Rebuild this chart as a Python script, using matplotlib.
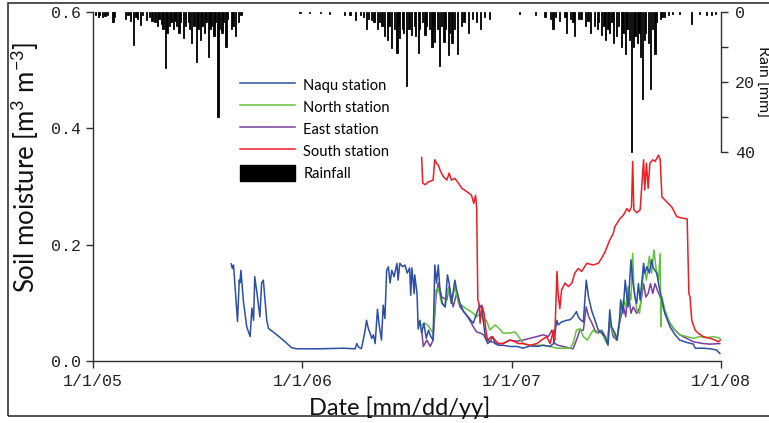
import numpy as np
import matplotlib
matplotlib.use('Agg')
import matplotlib.pyplot as plt
from matplotlib.lines import Line2D
from matplotlib.patches import Patch, Rectangle

START = np.datetime64('2005-01-01')

# ---- data (day = days since 2005-01-01) ----
naqu_day = [241, 243, 245, 252, 255, 256, 258, 262, 268, 274, 277, 280, 282, 286, 291, 294, 297, 300, 303, 306,
            314, 323, 335, 346, 355, 396, 436, 457, 460, 463, 468, 474, 477, 480, 483, 486, 489, 492, 496, 499,
            503, 506, 509, 512, 515, 518, 521, 525, 530, 532, 535, 540, 544, 548, 552, 554, 556, 560, 561, 565,
            567, 570, 573, 577, 581, 585, 589, 593, 596, 599, 602, 605, 609, 614, 618, 621, 625, 631, 634, 640,
            646, 654, 663, 669, 674, 678, 681, 684, 688, 692, 697, 701, 707, 715, 727, 739, 750, 762, 774, 785,
            797, 803, 807, 809, 811, 817, 826, 832, 837, 843, 846, 850, 855, 860, 864, 870, 875, 881, 887, 893,
            898, 901, 904, 910, 914, 918, 920, 924, 928, 931, 933, 938, 941, 945, 948, 951, 954, 960, 962, 966,
            970, 974, 977, 983, 987, 992, 997, 1006, 1015, 1023, 1035, 1047, 1050, 1064, 1076, 1087, 1093]
naqu_sm = [0.167, 0.159, 0.165, 0.068, 0.139, 0.134, 0.156, 0.105, 0.059, 0.042, 0.091, 0.070, 0.145, 0.116, 0.076,
           0.134, 0.139, 0.105, 0.070, 0.056, 0.050, 0.043, 0.033, 0.023, 0.021, 0.021, 0.022, 0.021, 0.030, 0.024,
           0.021, 0.050, 0.070, 0.056, 0.048, 0.039, 0.045, 0.030, 0.089, 0.062, 0.036, 0.096, 0.073, 0.156, 0.162,
           0.134, 0.156, 0.145, 0.168, 0.139, 0.168, 0.162, 0.165, 0.151, 0.160, 0.113, 0.160, 0.116, 0.148, 0.116,
           0.055, 0.070, 0.048, 0.065, 0.039, 0.053, 0.042, 0.036, 0.165, 0.134, 0.165, 0.122, 0.099, 0.093, 0.148,
           0.134, 0.099, 0.139, 0.122, 0.099, 0.085, 0.076, 0.065, 0.082, 0.096, 0.090, 0.065, 0.042, 0.030, 0.033,
           0.042, 0.030, 0.027, 0.027, 0.025, 0.025, 0.022, 0.026, 0.025, 0.027, 0.025, 0.030, 0.059, 0.070, 0.062,
           0.067, 0.070, 0.071, 0.076, 0.085, 0.076, 0.071, 0.067, 0.139, 0.110, 0.085, 0.071, 0.053, 0.048, 0.042,
           0.027, 0.088, 0.059, 0.048, 0.036, 0.070, 0.105, 0.082, 0.139, 0.110, 0.093, 0.174, 0.139, 0.110, 0.099,
           0.133, 0.105, 0.168, 0.151, 0.162, 0.151, 0.174, 0.160, 0.151, 0.128, 0.105, 0.082, 0.059, 0.045, 0.036,
           0.032, 0.029, 0.022, 0.022, 0.021, 0.019, 0.013]

north_day = [573, 579, 585, 593, 598, 602, 608, 614, 619, 625, 631, 637, 646, 654, 663, 669, 675, 681, 686, 692,
             701, 707, 715, 727, 736, 742, 750, 762, 774, 785, 797, 809, 820, 832, 837, 843, 849, 855, 862, 867,
             872, 878, 884, 890, 896, 901, 907, 913, 919, 925, 929, 933, 938, 941, 943, 948, 953, 957, 961, 965,
             970, 974, 978, 982, 986, 989, 990, 992, 997, 1006, 1015, 1023, 1035, 1047, 1058, 1070, 1082, 1093]
north_sm = [0.062, 0.065, 0.060, 0.048, 0.122, 0.125, 0.099, 0.093, 0.125, 0.099, 0.128, 0.100, 0.093, 0.088, 0.082,
            0.076, 0.082, 0.070, 0.070, 0.053, 0.062, 0.057, 0.048, 0.048, 0.050, 0.042, 0.030, 0.027, 0.027, 0.027,
            0.025, 0.022, 0.022, 0.022, 0.030, 0.053, 0.056, 0.042, 0.036, 0.045, 0.053, 0.048, 0.053, 0.042, 0.030,
            0.070, 0.048, 0.036, 0.076, 0.105, 0.093, 0.128, 0.105, 0.185, 0.128, 0.088, 0.082, 0.122, 0.162, 0.139,
            0.180, 0.151, 0.191, 0.157, 0.139, 0.185, 0.059, 0.110, 0.088, 0.065, 0.053, 0.045, 0.042, 0.039, 0.042,
            0.040, 0.042, 0.039]

east_day = [573, 576, 582, 588, 593, 598, 602, 608, 617, 621, 628, 634, 640, 649, 657, 663, 669, 675, 681, 686,
            695, 704, 715, 727, 739, 750, 762, 774, 785, 794, 800, 805, 811, 820, 832, 837, 843, 849, 855, 860,
            864, 870, 875, 881, 887, 893, 898, 901, 907, 913, 919, 925, 929, 933, 938, 942, 948, 954, 960, 964,
            968, 972, 976, 980, 984, 989, 994, 1003, 1012, 1023, 1035, 1047, 1064, 1076, 1093]
east_sm = [0.053, 0.025, 0.036, 0.025, 0.036, 0.110, 0.134, 0.110, 0.105, 0.128, 0.093, 0.116, 0.093, 0.082, 0.070,
           0.059, 0.050, 0.048, 0.045, 0.036, 0.033, 0.030, 0.030, 0.036, 0.034, 0.036, 0.039, 0.042, 0.045, 0.042,
           0.053, 0.030, 0.027, 0.025, 0.022, 0.021, 0.036, 0.053, 0.053, 0.093, 0.077, 0.065, 0.053, 0.048, 0.053,
           0.042, 0.030, 0.070, 0.042, 0.036, 0.070, 0.093, 0.076, 0.122, 0.082, 0.093, 0.082, 0.093, 0.133, 0.110,
           0.116, 0.133, 0.116, 0.133, 0.122, 0.110, 0.093, 0.070, 0.056, 0.045, 0.039, 0.033, 0.030, 0.029, 0.030]

south_day = [573, 575, 579, 585, 593, 596, 599, 602, 606, 611, 617, 621, 625, 631, 637, 643, 652, 660, 664, 667,
             669, 671, 673, 675, 678, 682, 685, 688, 695, 701, 707, 715, 727, 736, 742, 750, 762, 774, 782, 791,
             797, 803, 805, 809, 811, 814, 817, 823, 829, 835, 840, 846, 852, 861, 872, 881, 887, 893, 901, 907,
             910, 919, 925, 931, 935, 939, 941, 943, 948, 954, 960, 962, 965, 968, 971, 976, 980, 986, 989, 992,
             1000, 1009, 1018, 1026, 1036, 1039, 1041, 1044, 1050, 1055, 1064, 1076, 1085, 1090, 1094]
south_sm = [0.350, 0.306, 0.303, 0.308, 0.311, 0.346, 0.340, 0.337, 0.326, 0.317, 0.311, 0.323, 0.311, 0.314, 0.306,
            0.297, 0.291, 0.285, 0.271, 0.285, 0.263, 0.105, 0.099, 0.065, 0.096, 0.082, 0.053, 0.036, 0.042, 0.036,
            0.030, 0.030, 0.036, 0.033, 0.030, 0.030, 0.027, 0.030, 0.036, 0.042, 0.030, 0.053, 0.036, 0.154, 0.116,
            0.090, 0.122, 0.134, 0.128, 0.134, 0.151, 0.159, 0.154, 0.168, 0.165, 0.168, 0.177, 0.188, 0.208, 0.219,
            0.231, 0.245, 0.251, 0.262, 0.257, 0.265, 0.343, 0.260, 0.255, 0.260, 0.346, 0.294, 0.340, 0.297, 0.340,
            0.346, 0.343, 0.354, 0.346, 0.282, 0.274, 0.265, 0.248, 0.246, 0.244, 0.116, 0.110, 0.070, 0.053, 0.048,
            0.042, 0.039, 0.036, 0.033, 0.036]

rain_day = [5, 9, 12, 17, 21, 26, 35, 38, 56, 61, 65, 70, 75, 78, 83, 87, 94, 99, 103, 108,
            112, 115, 119, 122, 127, 129, 133, 136, 140, 143, 146, 150, 153, 158, 162, 166, 169, 172, 176, 180,
            183, 187, 190, 194, 197, 201, 204, 207, 211, 214, 218, 221, 225, 228, 232, 235, 241, 244, 249, 253,
            258,
            361, 378, 396, 413, 439, 448, 457, 466, 472, 477, 481, 486, 490, 496, 500, 504, 509, 513, 516,
            521, 525, 530, 532, 535, 539, 542, 547, 551, 556, 560, 563, 567, 570, 574, 579, 582, 586, 591, 593,
            596, 600, 604, 607, 612, 615, 620, 622, 626, 631, 636, 642, 647, 654, 661, 668, 675, 683, 692,
            744, 771, 788, 797, 802, 807, 814, 823, 826, 832, 837, 840, 846, 851, 858, 863, 868, 874, 879, 882,
            887, 891, 894, 898, 901, 905, 908, 913, 917, 921, 924, 928, 931, 935, 939, 942, 945, 949, 952, 955,
            958, 961, 964, 968, 972, 975, 980, 983, 989, 992, 997, 1003, 1010, 1023, 1044, 1058, 1070, 1079, 1086]
rain_mm = [1.0, 1.5, 1.0, 1.4, 1.2, 0.8, 3.0, 1.5, 2.0, 1.0, 2.5, 9.4, 1.5, 2.0, 3.7, 1.0, 2.3, 1.5, 2.5, 3.0,
           4.0, 2.0, 3.5, 5.0, 16.0, 6.0, 4.0, 3.0, 5.0, 2.5, 4.0, 6.0, 3.0, 7.5, 4.0, 3.0, 5.0, 9.0, 4.0, 14.3,
           5.0, 8.0, 4.0, 6.0, 3.0, 13.0, 5.0, 4.0, 7.0, 3.0, 30.0, 5.0, 6.0, 3.0, 10.0, 2.0, 5.0, 4.0, 7.0, 3.0,
           1.0,
           0.3, 0.4, 0.3, 0.5, 0.8, 1.0, 2.3, 1.0, 1.5, 5.0, 2.0, 2.3, 3.0, 5.0, 3.0, 4.0, 7.0, 8.0, 4.0,
           10.4, 5.0, 11.8, 4.0, 7.4, 5.0, 6.0, 21.3, 5.0, 6.6, 4.0, 7.0, 11.8, 5.0, 3.0, 6.6, 4.0, 5.0, 9.9, 4.0,
           8.5, 5.0, 15.6, 4.0, 8.5, 5.0, 12.3, 6.0, 9.0, 5.0, 12.0, 4.0, 3.0, 6.0, 2.0, 3.0, 5.0, 1.5, 2.0,
           0.5, 0.8, 1.5, 2.0, 5.0, 1.5, 2.5, 1.5, 6.0, 2.0, 3.0, 7.0, 2.0, 2.0, 4.0, 2.5, 6.0, 4.0, 5.0, 3.0,
           6.6, 4.0, 8.0, 5.0, 6.0, 3.0, 9.0, 7.0, 4.0, 10.0, 6.0, 12.0, 5.0, 8.0, 40.0, 10.0, 7.0, 9.0, 6.0, 13.0,
           25.0, 8.0, 6.0, 9.0, 22.0, 5.0, 12.0, 3.0, 2.0, 1.5, 1.4, 0.8, 0.6, 0.5, 3.3, 0.5, 1.0, 0.8, 0.5]

series_names = ['Naqu station', 'North station', 'East station', 'South station']
series_colors = ['#2c4fa3', '#62c23c', '#7a3f9f', '#ee1c24']
sm_ticks = [0.0, 0.2, 0.4, 0.6]
rain_ticks = [0, 10, 20, 30, 40]
rain_ticklabels = ['0', '', '20', '', '40']
year_ticks = ['2005-01-01', '2006-01-01', '2007-01-01', '2008-01-01']
year_labels = ['1/1/05', '1/1/06', '1/1/07', '1/1/08']


def to_dates(days):
    return START + np.array(days, dtype='timedelta64[D]')


plt.rcParams['mathtext.fontset'] = 'custom'
plt.rcParams['mathtext.rm'] = 'Lato'
plt.rcParams['mathtext.it'] = 'Lato'

W, H = 769, 423
fig = plt.figure(figsize=(W / 100, H / 100), dpi=100)
ax = fig.add_axes([93 / W, 1 - 361 / H, (721 - 93) / W, (361 - 12) / H])
ax.patch.set_visible(False)

spine_col = '#303030'
mono = 'Liberation Mono'

# soil moisture lines
ax.plot(to_dates(east_day), east_sm, color=series_colors[2], lw=1.1, zorder=2)
ax.plot(to_dates(north_day), north_sm, color=series_colors[1], lw=1.1, zorder=2.1)
ax.plot(to_dates(naqu_day), naqu_sm, color=series_colors[0], lw=1.1, zorder=2.2)
ax.plot(to_dates(south_day), south_sm, color=series_colors[3], lw=1.1, zorder=2.3)

ax.set_xlim(np.datetime64('2005-01-01'), np.datetime64('2008-01-01'))
ax.set_ylim(0, 0.6)
ax.set_yticks(sm_ticks)
ax.set_yticklabels(['%.1f' % v for v in sm_ticks], fontfamily=mono, fontsize=12, color='#222222')
ax.set_xticks([np.datetime64(d) for d in year_ticks])
ax.set_xticklabels(year_labels, fontfamily=mono, fontsize=12, color='#222222')
ax.tick_params(axis='both', direction='out', length=5, width=1, color=spine_col, pad=4)
for s in ['top', 'right']:
    ax.spines[s].set_visible(False)
for s in ['left', 'bottom']:
    ax.spines[s].set_color(spine_col)
    ax.spines[s].set_linewidth(1.0)

# rain on twin axis (hanging bars)
ax2 = ax.twinx()
ax2.bar(to_dates(rain_day), rain_mm, width=2.0, color='black', edgecolor='black', linewidth=0.6, align='center')
ax2.set_ylim(100, 0)
ax2.set_yticks(rain_ticks)
ax2.set_yticklabels(rain_ticklabels, fontfamily=mono, fontsize=12, color='#222222')
ax2.tick_params(axis='y', direction='out', length=5, width=1, color=spine_col, pad=5)
for s in ['top', 'left', 'bottom']:
    ax2.spines[s].set_visible(False)
ax2.spines['right'].set_bounds(0, 40)
ax2.spines['right'].set_color(spine_col)
ax2.spines['right'].set_linewidth(1.0)

# axis labels
fig.text(25 / W, 1 - 167 / H, r'Soil moisture [m$^{3}$ m$^{-3}$]', rotation=90, ha='center', va='center',
         fontsize=18.5, fontfamily='Lato', color='#111111')
fig.text(400 / W, 1 - 408 / H, 'Date [mm/dd/yy]', ha='center', va='center', fontsize=17,
         fontfamily='Lato', color='#111111')
fig.text(762 / W, 1 - 82 / H, 'Rain [mm]', rotation=270, ha='center', va='center', fontsize=11.5,
         fontfamily='Lato', color='#111111')

# legend
handles = [Line2D([], [], color=c, lw=1.1) for c in series_colors] + [Patch(facecolor='black', edgecolor='black')]
labels = series_names + ['Rainfall']
leg = ax2.legend(handles, labels, loc='upper left', bbox_to_anchor=(240 / W, 1 - 77 / H),
                 bbox_transform=fig.transFigure, frameon=False, borderpad=0, borderaxespad=0,
                 handlelength=3.8, handleheight=1.3, handletextpad=0.55, labelspacing=0.42,
                 prop={'family': 'Lato', 'size': 10.5})

# figure frame
fig.add_artist(Rectangle((8 / W, 1 - 416 / H), 1.2, (416 - 3) / H, transform=fig.transFigure,
                         fill=False, edgecolor='#333333', linewidth=1.2))

fig.savefig('out.png', dpi=100)
